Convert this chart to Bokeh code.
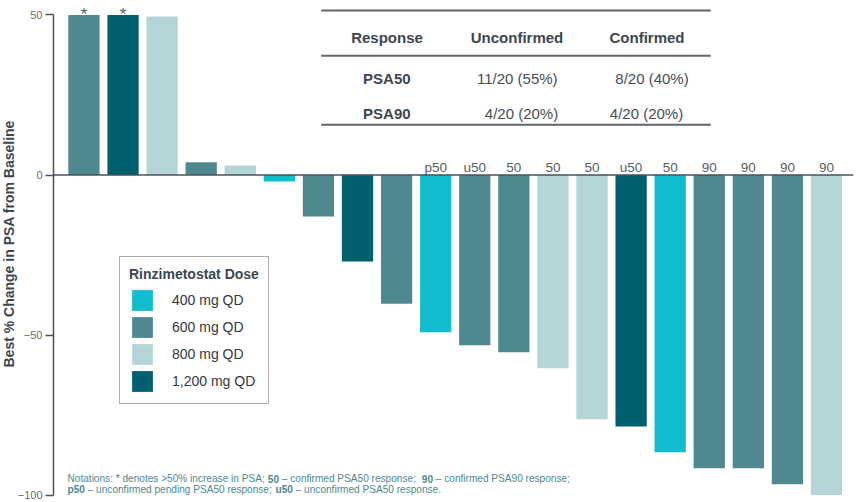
from bokeh.plotting import figure
from bokeh.models import (ColumnDataSource, Legend, LegendItem, Span, Label,
                          Range1d, FixedTicker, Title)
from bokeh.embed import file_html
from bokeh.resources import INLINE
from bokeh.core.properties import value

# ---------------- data ----------------
patients = list(range(1, 21))
best_change = [50, 50, 49.5, 4, 3, -2, -13, -27, -40.2, -49.1, -53.2, -55.4,
               -60.4, -76.3, -78.6, -86.6, -91.6, -91.6, -96.6, -100]
dose_mg = [600, 1200, 800, 600, 800, 400, 600, 1200, 600, 400, 600, 600,
           800, 800, 1200, 400, 600, 600, 600, 800]
response = ["*", "*", "", "", "", "", "", "", "", "p50", "u50", "50",
            "50", "50", "u50", "50", "90", "90", "90", "90"]
dose_keys = [400, 600, 800, 1200]
dose_labels = ["400 mg QD", "600 mg QD", "800 mg QD", "1,200 mg QD"]
dose_colors = ["#12bccf", "#4f888f", "#b5d4d8", "#025f6e"]
y_ticks = [-100, -50, 0, 50]
y_title = "Best % Change in PSA from Baseline"

table_header = ["Response", "Unconfirmed", "Confirmed"]
table_row1 = ["PSA50", "11/20 (55%)", "8/20 (40%)"]
table_row2 = ["PSA90", "4/20 (20%)", "4/20 (20%)"]

FONT = value("Liberation Sans")
DARK = "#3c4751"

# ---------------- figure ----------------
X0, X1 = 0.2206, 20.691
Y0, Y1 = -102.34, 54.53
p = figure(width=859, height=502, x_range=Range1d(X0, X1), y_range=Range1d(Y0, Y1),
           x_axis_location=None, toolbar_location=None, output_backend="svg",
           min_border_left=52, min_border_right=6, min_border_top=0, min_border_bottom=0)
p.outline_line_color = None
p.grid.visible = False
p.background_fill_color = "white"

# frame geometry (page px) used only for annotations
FL, FT, FW, FH = 52, 0, 801, 502
FB = FT + FH
def dx(px):
    return X0 + (px - FL) * (X1 - X0) / FW
def dy(py):
    return Y1 - (py - FT) * (Y1 - Y0) / FH

# ---------------- bars ----------------
legend_items = []
for key, lab, col in zip(dose_keys, dose_labels, dose_colors):
    idx = [i for i, d in enumerate(dose_mg) if d == key]
    src = ColumnDataSource(dict(x=[patients[i] for i in idx],
                                top=[best_change[i] for i in idx]))
    r = p.vbar(x="x", top="top", bottom=0, width=0.8, source=src,
               fill_color=col, line_color=None)
    legend_items.append(LegendItem(label=lab, renderers=[r]))

p.add_layout(Span(location=0, dimension="width", line_color="#4a5259", line_width=1.5))

# ---------------- response marks ----------------
star_idx = [i for i, t in enumerate(response) if t == "*"]
resp_idx = [i for i, t in enumerate(response) if t and t != "*"]
star_src = ColumnDataSource(dict(x=[patients[i] for i in star_idx],
                                 y=[best_change[i] for i in star_idx],
                                 t=[response[i] for i in star_idx]))
resp_src = ColumnDataSource(dict(x=[patients[i] for i in resp_idx],
                                 y=[0 for i in resp_idx],
                                 t=[response[i] for i in resp_idx]))
p.text(x="x", y="y", text="t", source=star_src, text_align="center",
       text_baseline="alphabetic", y_offset=0, text_font=FONT,
       text_font_size="17px", text_color="#555d66")
p.text(x="x", y="y", text="t", source=resp_src, text_align="center",
       text_baseline="alphabetic", y_offset=-8, text_font=FONT,
       text_font_size="13.5px", text_color="#555d66")

# ---------------- y axis ----------------
ax = p.yaxis[0]
ax.ticker = FixedTicker(ticks=y_ticks)
ax.bounds = (-100, 50)
ax.major_label_text_font = "Liberation Sans"
ax.major_label_text_font_size = "11px"
ax.major_label_text_color = "#666a6e"
ax.major_label_standoff = 3
ax.major_tick_out = 8
ax.major_tick_in = 0
ax.minor_tick_out = 0
ax.minor_tick_in = 0
ax.axis_line_color = "#4a5259"
ax.axis_line_width = 1.5
ax.major_tick_line_color = "#4a5259"
ax.major_tick_line_width = 1.5

# axis title as a side-panel title, shifted up like the reference
p.add_layout(Title(text=y_title, align="left", offset=135, standoff=-4,
                   text_font="Liberation Sans", text_font_size="14px",
                   text_font_style="bold", text_color=DARK), "left")

# ---------------- legend ----------------
legend = Legend(items=legend_items, location=(118 - FL, FB - 404),
                title="Rinzimetostat Dose", title_text_font="Liberation Sans",
                title_text_font_size="14px", title_text_font_style="bold",
                title_text_color=DARK, title_standoff=5,
                label_text_font="Liberation Sans", label_text_font_size="14px",
                label_text_color="#33393f", label_standoff=17,
                glyph_width=26, glyph_height=26, label_height=26, spacing=1,
                padding=9, margin=0, border_line_color="#555a60",
                border_line_width=1.5, background_fill_color="white",
                background_fill_alpha=1.0)
p.add_layout(legend, "center")

# ---------------- summary table ----------------
rule_y = [10, 55.3, 124.3]
p.segment(x0=[dx(320)] * 3, x1=[dx(710)] * 3, y0=[dy(v) for v in rule_y],
          y1=[dy(v) for v in rule_y], line_color="#5f666d", line_width=2)

col_centers = [385.5, 515.5, 645.5]
for txt, cx in zip(table_header, col_centers):
    p.add_layout(Label(x=cx - FL, y=FB - 37.4, x_units="screen", y_units="screen",
                       text=txt, text_align="center", text_baseline="alphabetic",
                       text_font="Liberation Sans", text_font_size="15px",
                       text_font_style="bold", text_color=DARK))

row_specs = [(table_row1, 78.3, [385.3, 515.8, 650.5]),
             (table_row2, 113.3, [385.3, 520.0, 645.0])]
for row, base, centers in row_specs:
    for j, (txt, cx) in enumerate(zip(row, centers)):
        p.add_layout(Label(x=cx - FL, y=FB - base, x_units="screen", y_units="screen",
                           text=txt, text_align="center", text_baseline="alphabetic",
                           text_font="Liberation Sans", text_font_size="15px",
                           text_font_style="bold" if j == 0 else "normal",
                           text_color=DARK if j == 0 else "#454d56"))

# ---------------- notations ----------------
NOTE = "#4e878e"
note_lines = [
    (478.0, [("Notations: * denotes >50% increase in PSA;", "normal", 66.0),
             ("50", "bold", 266.3),
             ("– confirmed PSA50 response;", "normal", 280.3),
             ("90", "bold", 420.3),
             ("– confirmed PSA90 response;", "normal", 434.3)]),
    (488.5, [("p50", "bold", 66.0),
             ("– unconfirmed pending PSA50 response;", "normal", 86.2),
             ("u50", "bold", 274.0),
             ("– unconfirmed PSA50 response.", "normal", 294.2)]),
]
for base, segs in note_lines:
    for txt, style, px in segs:
        p.add_layout(Label(x=px - FL, y=FB - base, x_units="screen", y_units="screen",
                           text=txt, text_align="left", text_baseline="alphabetic",
                           text_font="Liberation Sans", text_font_size="10.1px",
                           text_font_style=style, text_color=NOTE))

open("out.html", "w").write(file_html(p, INLINE))
